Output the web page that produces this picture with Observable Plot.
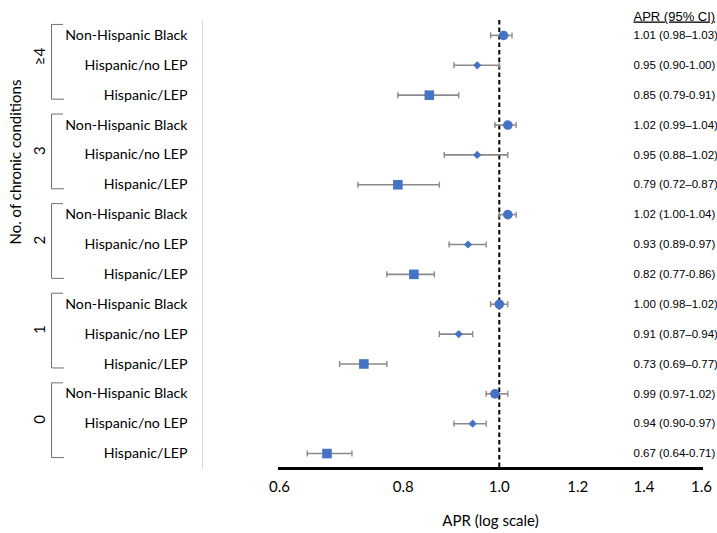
<!DOCTYPE html>
<html>
<head>
<meta charset="utf-8">
<script src="https://cdn.jsdelivr.net/npm/d3@7"></script>
<script src="https://cdn.jsdelivr.net/npm/@observablehq/plot@0.6"></script>
<style>
  html, body { margin: 0; padding: 0; background: #fff; }
</style>
</head>
<body>
<div id="chart"></div>
<script>
// ---- Data ----
const groups = ["≥4", "3", "2", "1", "0"];
const ethnicities = ["Non-Hispanic Black", "Hispanic/no LEP", "Hispanic/LEP"];
const apr   = [1.01, 0.95, 0.85, 1.02, 0.95, 0.79, 1.02, 0.93, 0.82, 1.00, 0.91, 0.73, 0.99, 0.94, 0.67];
const lower = [0.98, 0.90, 0.79, 0.99, 0.88, 0.72, 1.00, 0.89, 0.77, 0.98, 0.87, 0.69, 0.97, 0.90, 0.64];
const upper = [1.03, 1.00, 0.91, 1.04, 1.02, 0.87, 1.04, 0.97, 0.86, 1.02, 0.94, 0.77, 1.02, 0.97, 0.71];
const ciLabels = [
  "1.01 (0.98–1.03)", "0.95 (0.90-1.00)", "0.85 (0.79-0.91)",
  "1.02 (0.99–1.04)", "0.95 (0.88–1.02)", "0.79 (0.72–0.87)",
  "1.02 (1.00-1.04)", "0.93 (0.89-0.97)", "0.82 (0.77-0.86)",
  "1.00 (0.98–1.02)", "0.91 (0.87–0.94)", "0.73 (0.69–0.77)",
  "0.99 (0.97-1.02)", "0.94 (0.90-0.97)", "0.67 (0.64-0.71)"
];
const xTicks = [0.6, 0.8, 1.0, 1.2, 1.4, 1.6];
const xDomain = [0.6, 1.6];
const refValue = 1;

// ---- Derived tables ----
const rows = groups.flatMap((g, gi) => ethnicities.map((e, ei) => {
  const i = gi * 3 + ei;
  return {id: g + "|" + e, group: g, eth: e, apr: apr[i], lo: lower[i], hi: upper[i], ci: ciLabels[i]};
}));
const groupRows = groups.map(g => ({
  group: g,
  top: g + "|" + ethnicities[0],
  mid: g + "|" + ethnicities[1],
  bottom: g + "|" + ethnicities[2]
}));

const blue = "#4472C4";
const gray = "#8a8a8a";
const calibri = "Lato, 'Noto Sans', sans-serif";
const arial = "'Liberation Sans', Arial, sans-serif";

function brackets(index, scales) {
  const y = scales.y;
  const bw = y.bandwidth ? y.bandwidth() : 0;
  const g = d3.create("svg:g").attr("fill", "none").attr("stroke", "#707070").attr("stroke-width", 1);
  for (const gr of groupRows) {
    const t = y(gr.top) + bw / 2 - 10.5;
    const b = y(gr.bottom) + bw / 2 + 4.5;
    g.append("path").attr("d", `M63,${t}H51.5V${b}H64`);
  }
  return g.node();
}

const vline = {
  draw(context, size) {
    const h = Math.sqrt(size);
    context.moveTo(0, -h);
    context.lineTo(0, h);
  }
};

const chart = Plot.plot({
  width: 717,
  height: 533,
  marginLeft: 279,
  marginRight: 16,
  marginTop: 20,
  marginBottom: 65,
  style: {fontFamily: calibri, fontSize: "15px", color: "#000", background: "#fff"},
  x: {type: "log", domain: xDomain},
  y: {type: "band", domain: rows.map(d => d.id), padding: 0, round: false, axis: null},
  marks: [
    Plot.frame({anchor: "left", dx: -77, stroke: "#d9d9d9", strokeWidth: 1}),
    Plot.ruleX([refValue], {stroke: "#000", strokeWidth: 2, strokeDasharray: "4.5,3"}),
    Plot.ruleY(rows, {y: "id", x1: "lo", x2: "hi", stroke: gray, strokeWidth: 1.6}),
    Plot.dot(rows, {x: "lo", y: "id", symbol: vline, r: 3 / Math.sqrt(Math.PI), stroke: gray, strokeWidth: 1.4, fill: "none"}),
    Plot.dot(rows, {x: "hi", y: "id", symbol: vline, r: 3 / Math.sqrt(Math.PI), stroke: gray, strokeWidth: 1.4, fill: "none"}),
    Plot.dot(rows, {filter: d => d.eth === ethnicities[0], x: "apr", y: "id", symbol: "circle", r: 4.8, fill: blue}),
    Plot.dot(rows, {filter: d => d.eth === ethnicities[1], x: "apr", y: "id", symbol: "diamond2", r: 3.7, fill: blue}),
    Plot.dot(rows, {filter: d => d.eth === ethnicities[2], x: "apr", y: "id", symbol: "square", r: 5.4, fill: blue}),
    Plot.frame({anchor: "bottom", stroke: "#000", strokeWidth: 3}),
    Plot.axisX({ticks: xTicks, tickFormat: d3.format(".1f"), tickSize: 0, tickPadding: 13, fontSize: 15, label: null}),
    Plot.text(["APR (log scale)"], {frameAnchor: "bottom", dy: 57, fontSize: 15, fill: "#000"}),
    Plot.text(rows, {y: "id", text: "eth", frameAnchor: "left", dx: -92, textAnchor: "end", fontSize: 14.2, fill: "#000"}),
    Plot.text(groupRows, {y: "mid", text: "group", frameAnchor: "left", dx: -239, rotate: -90, fontSize: 15, fill: "#000"}),
    Plot.text(["No. of chronic conditions"], {frameAnchor: "left", dx: -263, rotate: -90, fontSize: 15, fill: "#000"}),
    Plot.text(rows, {y: "id", text: "ci", frameAnchor: "right", dx: -68, textAnchor: "start", fontFamily: arial, fontSize: 11.5, fill: "#000"}),
    Plot.text(["APR (95% CI)"], {frameAnchor: "top-right", dx: -68, dy: 0, textAnchor: "start", lineAnchor: "bottom", fontFamily: arial, fontSize: 13, fill: "#000"}),
    brackets
  ]
});

d3.select(chart).selectAll("text").filter(function() { return this.textContent === "APR (95% CI)"; })
  .attr("text-decoration", "underline");

document.getElementById("chart").appendChild(chart);
</script>
</body>
</html>
